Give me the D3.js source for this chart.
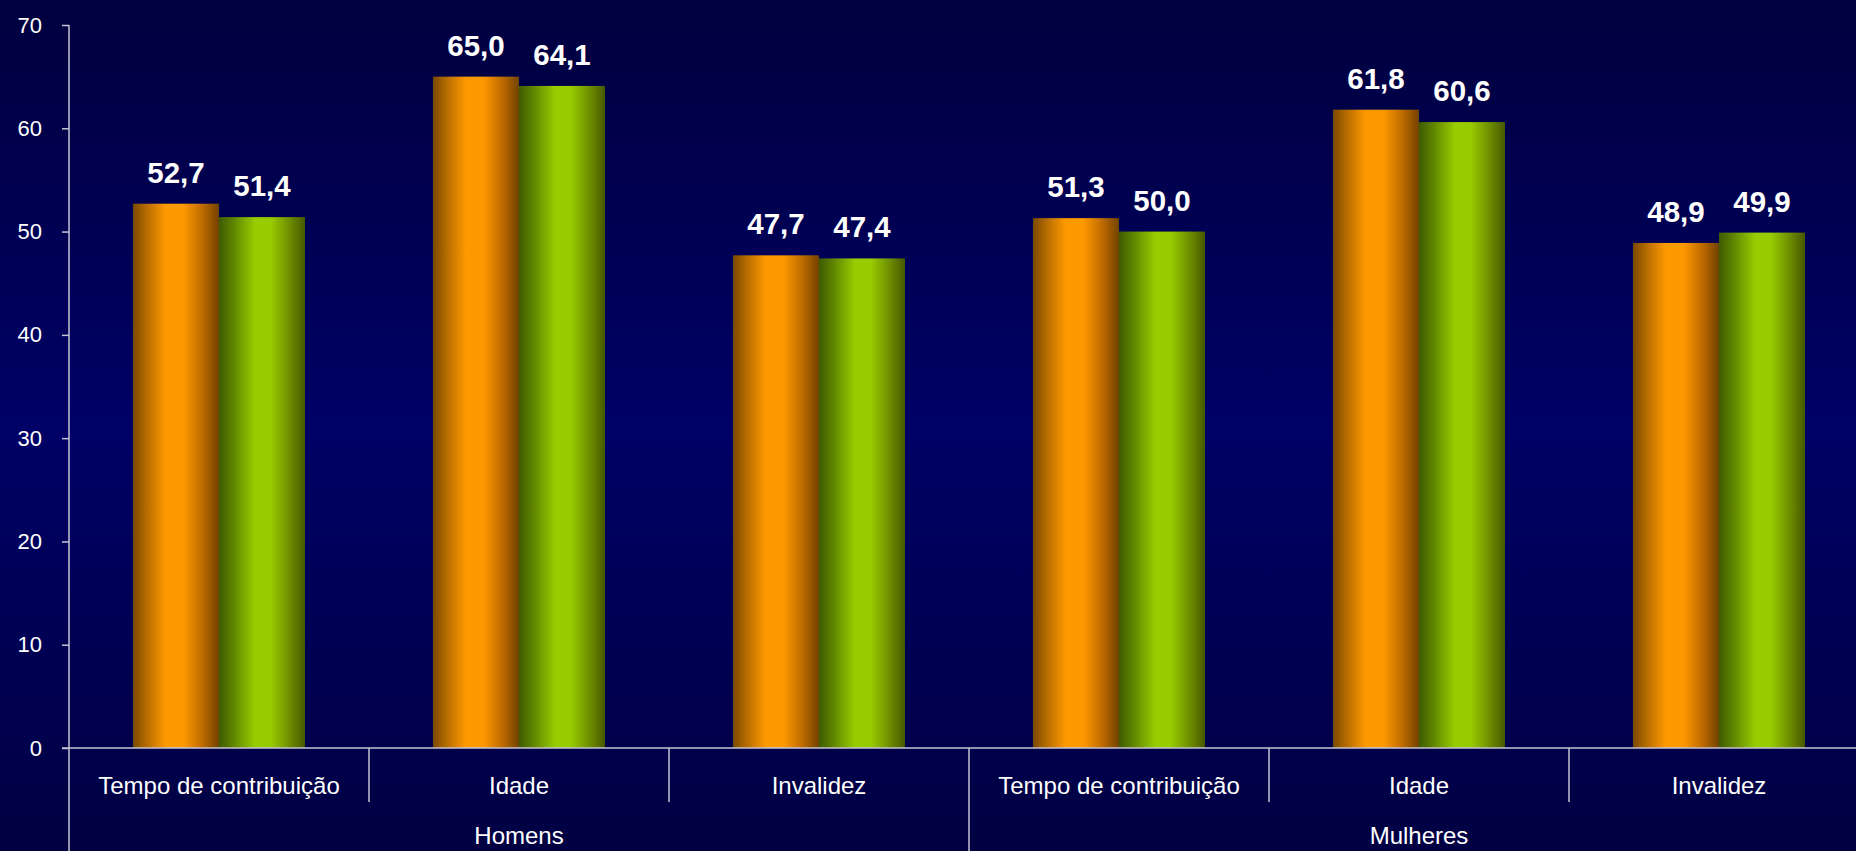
<!DOCTYPE html>
<html>
<head>
<meta charset="utf-8">
<script src="https://cdn.jsdelivr.net/npm/d3@7"></script>
<style>
  html, body { margin: 0; padding: 0; background: #000050; overflow: hidden; }
  svg { display: block; font-family: "Liberation Sans", Arial, Helvetica, sans-serif; }
</style>
</head>
<body>
<svg id="chart" width="1856" height="851"></svg>
<script>
// ---- data ----
const groups = ["Homens", "Mulheres"];
const categories = ["Tempo de contribuição", "Idade", "Invalidez", "Tempo de contribuição", "Idade", "Invalidez"];
const categoryGroup = [0, 0, 0, 1, 1, 1];
const seriesNames = ["Série 1", "Série 2"];
const series1 = [52.7, 65.0, 47.7, 51.3, 61.8, 48.9];
const series2 = [51.4, 64.1, 47.4, 50.0, 60.6, 49.9];
const yTicks = [0, 10, 20, 30, 40, 50, 60, 70];

(function () {
// ---- layout ----
const W = 1856, H = 851;
const pLeft = 69, pRight = 1869, pTop = 25, pBottom = 748;

const svg = d3.select("#chart");
const defs = svg.append("defs");

// background gradient
const bg = defs.append("linearGradient").attr("id", "bg").attr("x1", 0).attr("y1", 0).attr("x2", 0).attr("y2", 1);
bg.append("stop").attr("offset", "0%").attr("stop-color", "#00003e");
bg.append("stop").attr("offset", "50%").attr("stop-color", "#000066");
bg.append("stop").attr("offset", "100%").attr("stop-color", "#000042");
svg.append("rect").attr("width", W).attr("height", H).attr("fill", "url(#bg)");

// bar gradients
function barGrad(id, stops) {
  const g = defs.append("linearGradient").attr("id", id).attr("x1", 0).attr("y1", 0).attr("x2", 1).attr("y2", 0);
  stops.forEach(s => g.append("stop").attr("offset", s[0]).attr("stop-color", s[1]));
}
barGrad("gOrange", [["0%", "#784800"], ["12%", "#a86400"], ["38%", "#ff9900"], ["58%", "#ff9900"], ["80%", "#c06c00"], ["100%", "#724200"]]);
barGrad("gGreen", [["0%", "#3f5c00"], ["12%", "#557800"], ["42%", "#99cc00"], ["60%", "#99cc00"], ["82%", "#6e8e00"], ["100%", "#465800"]]);
const fills = ["url(#gOrange)", "url(#gGreen)"];

// scales
const idx = categories.map((c, i) => i);
const x0 = d3.scaleBand().domain(idx).range([pLeft, pRight]).paddingInner(0).paddingOuter(0);
const x1 = d3.scaleBand().domain([0, 1]).range([0, x0.bandwidth()]).paddingInner(0).paddingOuter(0.744);
const y = d3.scaleLinear().domain([0, 70]).range([pBottom, pTop]);

const axisColor = "#c4c4d4";

// y axis
const yAxis = d3.axisLeft(y).tickValues(yTicks).tickSize(7).tickPadding(20).tickFormat(d3.format("d"));
const gy = svg.append("g").attr("transform", `translate(${pLeft},0)`).call(yAxis);
gy.select(".domain").remove();
gy.selectAll(".tick line").attr("stroke", axisColor).attr("stroke-width", 1.5);
gy.selectAll(".tick text").attr("fill", "#ffffff").attr("font-size", 22).attr("font-family", "Liberation Sans, Arial, sans-serif");
// vertical axis line extended to bottom
svg.append("line").attr("x1", pLeft).attr("x2", pLeft).attr("y1", pTop).attr("y2", H)
  .attr("stroke", axisColor).attr("stroke-width", 1.5);

// bars
const data = idx.map(i => ({ i, vals: [series1[i], series2[i]] }));
const cat = svg.append("g").selectAll("g").data(data).join("g")
  .attr("transform", d => `translate(${x0(d.i)},0)`);
cat.selectAll("rect").data(d => d.vals.map((v, s) => ({ v, s }))).join("rect")
  .attr("x", d => x1(d.s))
  .attr("width", x1.bandwidth())
  .attr("y", d => y(d.v))
  .attr("height", d => y(0) - y(d.v))
  .attr("fill", d => fills[d.s]);

// value labels
const fmt = v => d3.format(".1f")(v).replace(".", ",");
cat.selectAll("text.val").data(d => d.vals.map((v, s) => ({ v, s }))).join("text")
  .attr("class", "val")
  .attr("x", d => x1(d.s) + x1.bandwidth() / 2)
  .attr("y", d => y(d.v) - 21)
  .attr("text-anchor", "middle")
  .attr("fill", "#ffffff")
  .attr("font-weight", "bold")
  .attr("font-size", 29.5)
  .text(d => fmt(d.v));

// x axis line
svg.append("line").attr("x1", pLeft - 7).attr("x2", W).attr("y1", pBottom).attr("y2", pBottom)
  .attr("stroke", axisColor).attr("stroke-width", 1.5);

// category separators and labels
idx.forEach(i => {
  const xe = x0(i) + x0.bandwidth();
  const isGroupEnd = (i === idx.length - 1) || categoryGroup[i] !== categoryGroup[i + 1];
  svg.append("line").attr("x1", xe).attr("x2", xe).attr("y1", pBottom).attr("y2", isGroupEnd ? H : 802)
    .attr("stroke", axisColor).attr("stroke-width", 1.5);
});
svg.append("g").selectAll("text").data(idx).join("text")
  .attr("x", i => x0(i) + x0.bandwidth() / 2)
  .attr("y", 794)
  .attr("text-anchor", "middle")
  .attr("fill", "#ffffff")
  .attr("font-size", 24)
  .text(i => categories[i]);

// group labels
svg.append("g").selectAll("text").data(groups).join("text")
  .attr("x", (g, gi) => {
    const members = idx.filter(i => categoryGroup[i] === gi);
    const a = x0(members[0]);
    const b = x0(members[members.length - 1]) + x0.bandwidth();
    return (a + b) / 2;
  })
  .attr("y", 844)
  .attr("text-anchor", "middle")
  .attr("fill", "#ffffff")
  .attr("font-size", 24)
  .text(g => g);
})();
</script>
</body>
</html>
